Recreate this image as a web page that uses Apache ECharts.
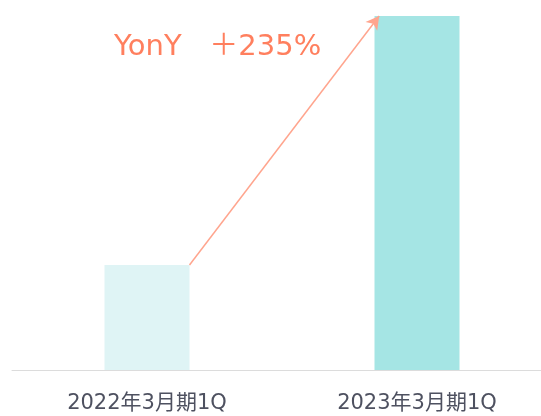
<!DOCTYPE html>
<html><head><meta charset="utf-8">
<script src="https://cdn.jsdelivr.net/npm/echarts@6/dist/echarts.min.js"></script>
<style>html,body{margin:0;padding:0;background:#fff;overflow:hidden}#c{width:552px;height:416px}</style>
</head><body><div id="c"></div>
<script>
const categories = ['2022年3月期1Q', '2023年3月期1Q'];
const values = [105, 354];
const barColors = ['#dff4f5', '#a5e5e4'];
const growthLabel = 'YonY   ＋235%';

const chart = echarts.init(document.getElementById('c'));
const halfBar = 42.5 / 270;
chart.setOption({
  animation: false,
  grid: { left: 12, right: 0, top: 10, bottom: 46 },
  xAxis: [
    { type: 'category', data: categories,
      axisLine: { lineStyle: { color: '#dcdcdc', width: 1 } },
      axisTick: { show: false },
      axisLabel: { color: '#4e5160', fontSize: 21, margin: 23, fontFamily: 'DejaVu Sans, Noto Sans CJK JP' } },
    { type: 'value', min: -0.5, max: 1.5, show: false }
  ],
  yAxis: { type: 'value', min: 0, max: 360, show: false },
  series: [
    { type: 'bar', barWidth: 85, xAxisIndex: 0,
      data: values.map((v, i) => ({ value: v, itemStyle: { color: barColors[i] } })) },
    { type: 'line', xAxisIndex: 1, data: [], silent: true,
      markLine: { silent: true, symbol: ['none', 'arrow'], symbolSize: [11, 13], label: { show: false },
        lineStyle: { color: '#ffa58e', width: 1.5, type: 'solid' },
        data: [[ { coord: [halfBar, values[0]] }, { coord: [1 - 0.14, values[1]] } ]] } }
  ],
  graphic: [{ type: 'text', left: 114, top: 33,
    style: { text: growthLabel, fill: '#ff7f5e', fontSize: 29, fontFamily: 'DejaVu Sans, Noto Sans CJK JP' } }]
});
</script></body></html>
